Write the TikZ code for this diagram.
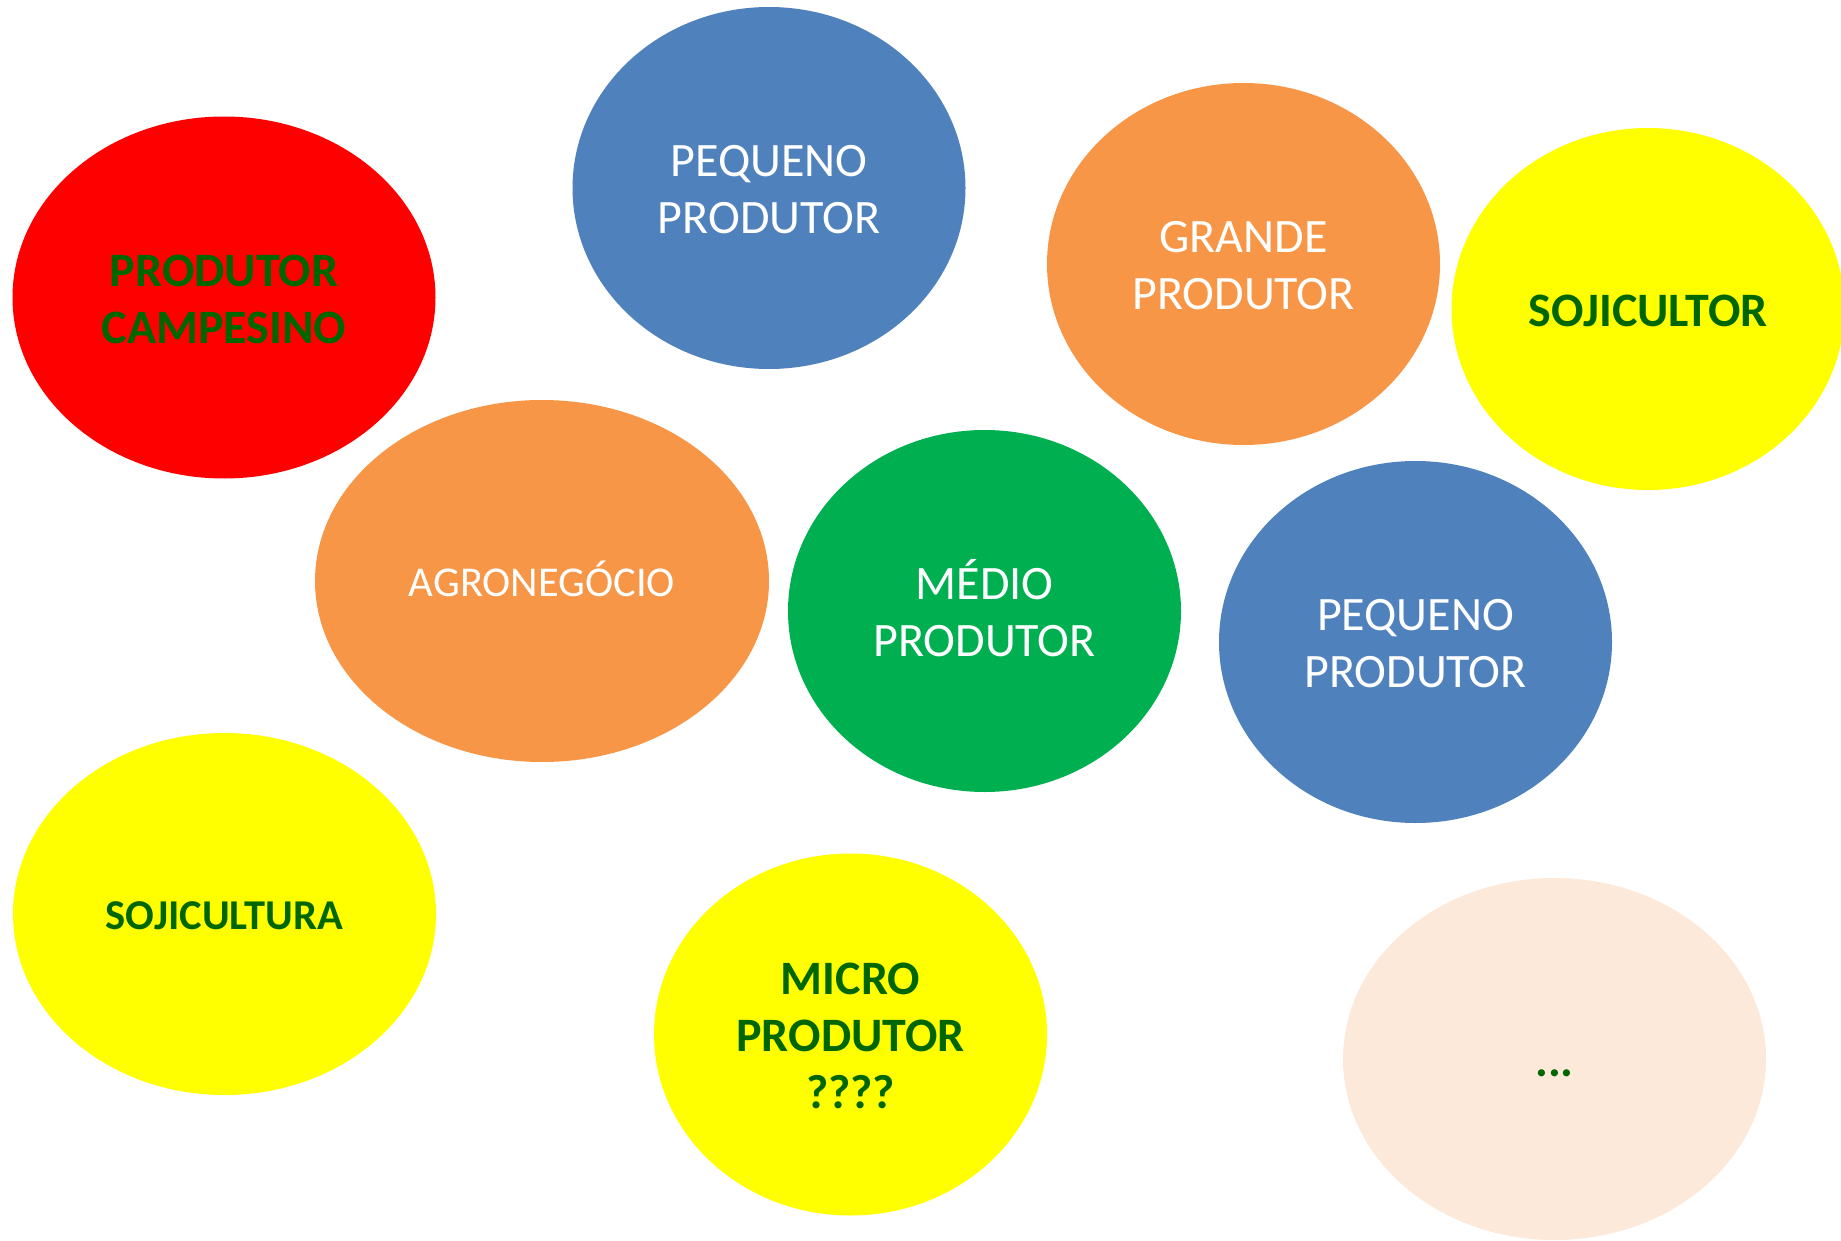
\documentclass[tikz,border=0pt]{standalone}
\usepackage{fontspec}
\setmainfont{Carlito}
\usetikzlibrary{shapes.geometric}
\definecolor{cred}{HTML}{FF0000}
\definecolor{cblue}{HTML}{4F81BD}
\definecolor{corange}{HTML}{F79646}
\definecolor{cyellow}{HTML}{FFFF00}
\definecolor{cgreen}{HTML}{00B050}
\definecolor{cpeach}{HTML}{FCE9DA}
\definecolor{dgreen}{HTML}{006600}
\newcommand\toprow[2]{\smash{#2}\rule{0pt}{#1}}
\tikzset{
  blob/.style={ellipse, inner sep=0pt, draw=none, align=center,
    minimum width=393pt, minimum height=362pt,
    font=\fontsize{48}{57}\selectfont},
  wide/.style={minimum width=423pt},
  lighttext/.style={text=white},
  darktext/.style={text=dgreen, font=\fontsize{48}{57}\selectfont\bfseries},
  smalltext/.style={font=\fontsize{42.5}{51}\selectfont},
  smallbold/.style={font=\fontsize{42.5}{51}\selectfont\bfseries},
}
\begin{document}
\begin{tikzpicture}[x=1pt,y=-1pt]
\useasboundingbox (0,0) rectangle (1841,1241);
\node[blob, wide, fill=cred, darktext] (campesino) at (224,297.5) {\toprow{34.5pt}{PRODUTOR}\\CAMPESINO};
\node[blob, fill=cblue, lighttext] (pequenoA) at (769,188) {\toprow{34.5pt}{PEQUENO}\\PRODUTOR};
\node[blob, fill=corange, lighttext] (grande) at (1243.5,264) {\toprow{34.5pt}{GRANDE}\\PRODUTOR};
\node[blob, fill=cyellow, darktext] (sojicultor) at (1648,309) {\toprow{34.5pt}{SOJICULTOR}};
\node[blob, minimum width=454pt, fill=corange, lighttext, smalltext] (agro) at (542,581) {\toprow{31pt}{AGRONEGÓCIO}};
\node[blob, fill=cgreen, lighttext] (medio) at (984.5,611) {\toprow{34.5pt}{MÉDIO}\\PRODUTOR};
\node[blob, fill=cblue, lighttext] (pequenoB) at (1415.5,642) {\toprow{34.5pt}{PEQUENO}\\PRODUTOR};
\node[blob, wide, fill=cyellow, darktext, smallbold] (sojicultura) at (224.5,914) {\toprow{31pt}{SOJICULTURA}};
\node[blob, fill=cyellow, darktext] (micro) at (850.5,1034.5) {\toprow{34.5pt}{MICRO}\\PRODUTOR\\????};
\node[blob, wide, fill=cpeach, darktext] (etc) at (1554.5,1059) {\toprow{34.5pt}{...}};
\end{tikzpicture}
\end{document}
